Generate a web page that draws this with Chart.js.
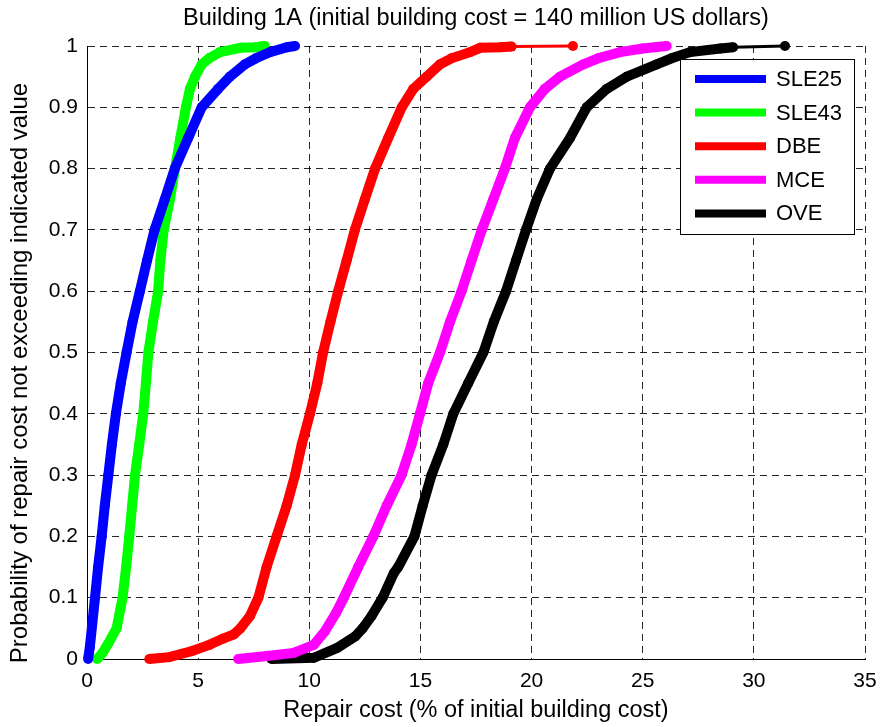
<!DOCTYPE html>
<html>
<head>
<meta charset="utf-8">
<script src="https://cdn.jsdelivr.net/npm/chart.js@4/dist/chart.umd.min.js"></script>
<style>
  html, body { margin: 0; padding: 0; background: #fff; }
  #wrap { width: 883px; height: 727px; }
</style>
</head>
<body>
<div id="wrap"><canvas id="cdf" width="883" height="727"></canvas></div>
<script>
const xTicks = [0, 5, 10, 15, 20, 25, 30, 35];
const yTicks = [0, 0.1, 0.2, 0.3, 0.4, 0.5, 0.6, 0.7, 0.8, 0.9, 1];

const seriesNames = ["SLE25", "SLE43", "DBE", "MCE", "OVE"];
const seriesColors = ["#0000ff", "#00ff00", "#ff0000", "#ff00ff", "#000000"];

// repair cost (%) and probability
const sle25Cost = [0.05, 0.13, 0.36, 0.5, 0.66, 0.8, 0.96, 1.12, 1.3, 1.52, 1.78, 2.05, 2.38, 2.7, 3.04, 3.5, 3.95, 4.55, 5.16, 5.9, 6.43, 7.1, 7.6, 8.23, 9.0, 9.36];
const sle25Prob = [0, 0.02, 0.1, 0.15, 0.2, 0.25, 0.3, 0.35, 0.4, 0.45, 0.5, 0.55, 0.6, 0.65, 0.7, 0.75, 0.8, 0.85, 0.9, 0.93, 0.95, 0.97, 0.98, 0.99, 0.998, 1];

const sle43Cost = [0.46, 0.7, 0.95, 1.33, 1.6, 1.76, 1.9, 2.03, 2.16, 2.35, 2.53, 2.65, 2.76, 2.97, 3.2, 3.3, 3.45, 3.73, 3.96, 4.2, 4.45, 4.63, 4.86, 5.16, 5.5, 5.98, 6.9, 7.56, 8.0];
const sle43Prob = [0, 0.01, 0.025, 0.05, 0.1, 0.15, 0.2, 0.25, 0.3, 0.35, 0.4, 0.45, 0.5, 0.55, 0.6, 0.65, 0.7, 0.75, 0.8, 0.85, 0.9, 0.93, 0.95, 0.97, 0.98, 0.99, 0.997, 0.998, 1];

const dbeCost = [2.8, 3.7, 4.73, 5.5, 6.1, 6.6, 6.9, 7.33, 7.71, 8.08, 8.53, 8.98, 9.36, 9.66, 10.03, 10.36, 10.62, 10.95, 11.3, 11.68, 12.05, 12.5, 12.96, 13.55, 14.16, 14.68, 15.28, 15.88, 16.4, 17.23, 17.7, 18.6, 19.1, 21.86];
const dbeProb = [0, 0.003, 0.013, 0.023, 0.033, 0.04, 0.05, 0.07, 0.1, 0.15, 0.2, 0.25, 0.3, 0.35, 0.4, 0.45, 0.5, 0.55, 0.6, 0.65, 0.7, 0.75, 0.8, 0.85, 0.9, 0.93, 0.95, 0.97, 0.98, 0.99, 0.997, 0.998, 0.999, 1];

const mceCost = [6.8, 8.1, 9.3, 10.2, 10.7, 11.2, 11.55, 12.2, 12.88, 13.48, 14.15, 14.6, 14.98, 15.35, 15.88, 16.33, 16.85, 17.3, 17.76, 18.28, 18.8, 19.25, 19.93, 20.6, 21.28, 22.33, 23.0, 23.98, 25.0, 26.08];
const mceProb = [0, 0.005, 0.01, 0.023, 0.045, 0.075, 0.1, 0.15, 0.2, 0.25, 0.3, 0.35, 0.4, 0.45, 0.5, 0.55, 0.6, 0.65, 0.7, 0.75, 0.8, 0.85, 0.9, 0.93, 0.95, 0.97, 0.98, 0.99, 0.996, 1];

const oveCost = [8.3, 10.2, 11.25, 12.07, 12.4, 12.8, 13.3, 13.8, 14.0, 14.73, 15.1, 15.5, 16.03, 16.48, 17.15, 17.83, 18.3, 18.85, 19.3, 19.75, 20.23, 20.83, 21.73, 22.48, 23.38, 24.28, 25.63, 26.3, 27.13, 28.5, 29.07, 31.4];
const oveProb = [0, 0.002, 0.018, 0.037, 0.05, 0.07, 0.1, 0.14, 0.15, 0.2, 0.25, 0.3, 0.35, 0.4, 0.45, 0.5, 0.55, 0.6, 0.65, 0.7, 0.75, 0.8, 0.85, 0.9, 0.93, 0.95, 0.97, 0.98, 0.99, 0.996, 0.998, 1];

const costs = [sle25Cost, sle43Cost, dbeCost, mceCost, oveCost];
const probs = [sle25Prob, sle43Prob, dbeProb, mceProb, oveProb];

const FONT = "'Liberation Sans', Arial, Helvetica, sans-serif";
const chartTitle = "Building 1A (initial building cost = 140 million US dollars)";
const yTitle = "Probability of repair cost not exceeding indicated value";

const datasets = seriesNames.map((name, i) => ({
  label: name,
  data: costs[i].map((c, j) => ({ x: c, y: probs[i][j] })),
  showLine: true,
  borderColor: seriesColors[i],
  backgroundColor: seriesColors[i],
  borderWidth: 10,
  pointRadius: 5,
  pointBorderWidth: 0,
  pointBackgroundColor: seriesColors[i],
  clip: false,
  segment: {
    // long flat run at the top of a curve is drawn thin, like the original
    borderWidth: ctx => (ctx.p1.parsed.x - ctx.p0.parsed.x > 1.5 && ctx.p0.parsed.y > 0.99) ? 3 : 10,
  },
}));

// title over the plot centre, y title, and the boxed legend inside the plot
const extras = {
  id: "extras",
  afterDraw(chart) {
    const { ctx, chartArea } = chart;
    const cx = (chartArea.left + chartArea.right) / 2;
    ctx.save();
    ctx.fillStyle = "#000";
    ctx.font = "23.5px " + FONT;
    ctx.textAlign = "center";
    ctx.textBaseline = "middle";
    ctx.fillText(chartTitle, cx, 19);
    ctx.translate(20, chartArea.top + 327);
    ctx.rotate(-Math.PI / 2);
    ctx.font = "24px " + FONT;
    ctx.fillText(yTitle, 0, 0);
    ctx.restore();

    const left = chartArea.right - 185, top = chartArea.top + 13;
    const w = 174, h = 175;
    ctx.save();
    ctx.fillStyle = "#fff";
    ctx.fillRect(left, top, w, h);
    ctx.strokeStyle = "#000";
    ctx.lineWidth = 1;
    ctx.strokeRect(left + 0.5, top + 0.5, w, h);
    ctx.font = "22px " + FONT;
    ctx.textBaseline = "middle";
    seriesNames.forEach((name, i) => {
      const y = top + 20 + i * 33.6;
      ctx.strokeStyle = seriesColors[i];
      ctx.lineWidth = 8;
      ctx.beginPath();
      ctx.moveTo(left + 15, y);
      ctx.lineTo(left + 86, y);
      ctx.stroke();
      ctx.fillStyle = "#000";
      ctx.fillText(name, left + 96, y + 1);
    });
    ctx.restore();
  },
};

new Chart(document.getElementById("cdf"), {
  type: "scatter",
  data: { datasets },
  options: {
    responsive: false,
    animation: false,
    layout: { padding: { left: 0, right: 18, top: 46, bottom: 0 } },
    plugins: {
      legend: { display: false },
      tooltip: { enabled: false },
      title: { display: false },
    },
    scales: {
      x: {
        type: "linear",
        min: 0,
        max: 35,
        afterFit: s => {
          s.height = 68;
          s.paddingLeft = 0;
          s.paddingRight = 0;
        },
        afterBuildTicks: s => { s.ticks = xTicks.map(v => ({ value: v })); },
        ticks: { color: "#000", padding: 10, font: { family: FONT, size: 21 } },
        grid: { color: "rgba(0,0,0,0.85)", lineWidth: 1, drawTicks: false },
        border: { display: true, color: "#000", width: 1, dash: [7, 5] },
        title: {
          display: true,
          text: "Repair cost (% of initial building cost)",
          color: "#000",
          font: { family: FONT, size: 23.5 },
          padding: { top: 0, bottom: 2 },
        },
      },
      y: {
        type: "linear",
        min: 0,
        max: 1,
        afterFit: s => { s.width = 87; },
        afterBuildTicks: s => { s.ticks = yTicks.map(v => ({ value: v })); },
        ticks: {
          color: "#000",
          padding: 9,
          font: { family: FONT, size: 21 },
          callback: v => String(+v.toFixed(1)),
        },
        grid: { color: "rgba(0,0,0,0.85)", lineWidth: 1, drawTicks: false },
        border: { display: true, color: "#000", width: 1, dash: [7, 5] },
      },
    },
  },
  plugins: [extras],
});
</script>
</body>
</html>
